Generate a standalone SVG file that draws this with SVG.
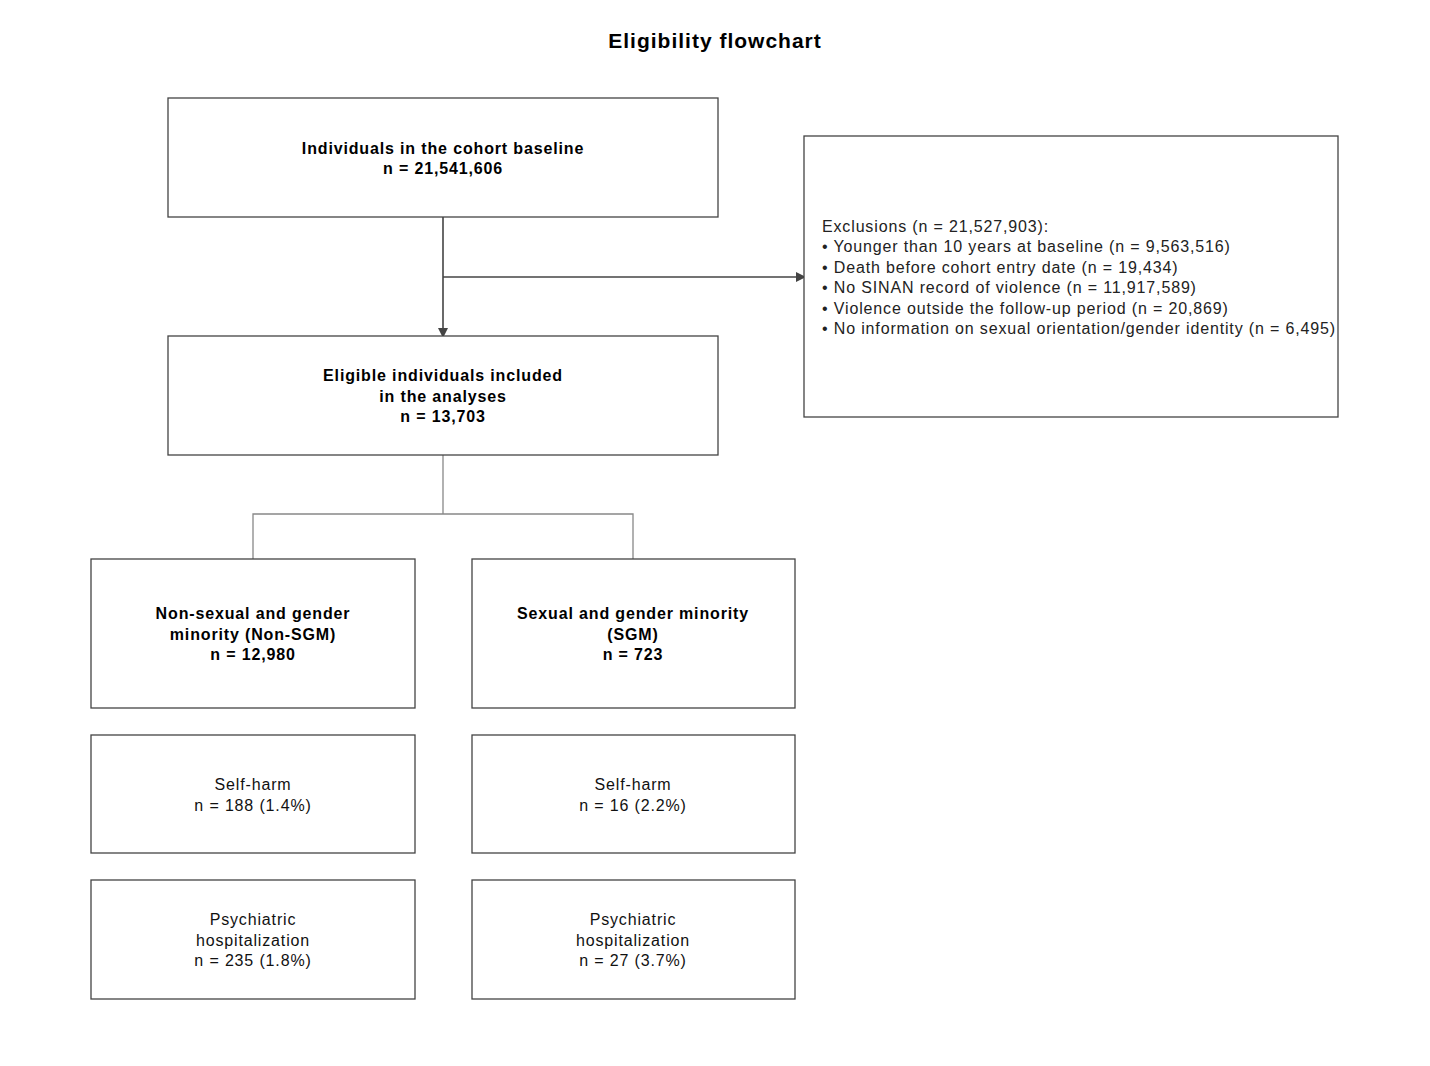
<svg xmlns="http://www.w3.org/2000/svg" width="1430" height="1066" viewBox="0 0 1430 1066">
<style>
.box{fill:#fff;stroke:#444;stroke-width:1.3}
.t{font-family:"Liberation Sans",Arial,sans-serif;font-size:16px;fill:#111;text-anchor:middle;letter-spacing:0.85px}
.b{font-weight:bold;fill:#000}
.l{text-anchor:start;fill:#222}
.c{fill:none;stroke:#444;stroke-width:1.6}
.s{fill:none;stroke:#888;stroke-width:1.3}
</style>
<defs>
<marker id="ah" markerWidth="10" markerHeight="10" refX="9" refY="5" orient="auto" markerUnits="userSpaceOnUse">
<path d="M0,0 L10,5 L0,10 Z" fill="#444"/>
</marker>
</defs>
<rect width="1430" height="1066" fill="#fff"/>
<text x="715" y="48" class="t b" style="font-size:21px;letter-spacing:1px">Eligibility flowchart</text>
<g id="connectors">
<line class="c" x1="443" y1="217" x2="443" y2="337" marker-end="url(#ah)"/>
<line class="c" x1="443" y1="277" x2="805" y2="277" marker-end="url(#ah)"/>
<polyline class="s" points="443,455 443,514"/>
<polyline class="s" points="253,559 253,514 633,514 633,559"/>
</g>
<g id="baseline">
<rect class="box" x="168" y="98" width="550" height="119"/>
<text class="t b" x="443" y="154">Individuals in the cohort baseline</text>
<text class="t b" x="443" y="174">n = 21,541,606</text>
</g>
<g id="exclusions">
<rect class="box" x="804" y="136" width="534" height="281"/>
<text class="t l" x="822" y="232">Exclusions (n = 21,527,903):</text>
<text class="t l" x="822" y="252">• Younger than 10 years at baseline (n = 9,563,516)</text>
<text class="t l" x="822" y="273">• Death before cohort entry date (n = 19,434)</text>
<text class="t l" x="822" y="293">• No SINAN record of violence (n = 11,917,589)</text>
<text class="t l" x="822" y="314">• Violence outside the follow-up period (n = 20,869)</text>
<text class="t l" x="822" y="334">• No information on sexual orientation/gender identity (n = 6,495)</text>
</g>
<g id="eligible">
<rect class="box" x="168" y="336" width="550" height="119"/>
<text class="t b" x="443" y="381">Eligible individuals included</text>
<text class="t b" x="443" y="402">in the analyses</text>
<text class="t b" x="443" y="422">n = 13,703</text>
</g>
<g id="nonsgm">
<rect class="box" x="91" y="559" width="324" height="149"/>
<text class="t b" x="253" y="619">Non-sexual and gender</text>
<text class="t b" x="253" y="640">minority (Non-SGM)</text>
<text class="t b" x="253" y="660">n = 12,980</text>
</g>
<g id="sgm">
<rect class="box" x="472" y="559" width="323" height="149"/>
<text class="t b" x="633" y="619">Sexual and gender minority</text>
<text class="t b" x="633" y="640">(SGM)</text>
<text class="t b" x="633" y="660">n = 723</text>
</g>
<g id="selfharm-nonsgm">
<rect class="box" x="91" y="735" width="324" height="118"/>
<text class="t" x="253" y="790">Self-harm</text>
<text class="t" x="253" y="811">n = 188 (1.4%)</text>
</g>
<g id="selfharm-sgm">
<rect class="box" x="472" y="735" width="323" height="118"/>
<text class="t" x="633" y="790">Self-harm</text>
<text class="t" x="633" y="811">n = 16 (2.2%)</text>
</g>
<g id="psych-nonsgm">
<rect class="box" x="91" y="880" width="324" height="119"/>
<text class="t" x="253" y="925">Psychiatric</text>
<text class="t" x="253" y="946">hospitalization</text>
<text class="t" x="253" y="966">n = 235 (1.8%)</text>
</g>
<g id="psych-sgm">
<rect class="box" x="472" y="880" width="323" height="119"/>
<text class="t" x="633" y="925">Psychiatric</text>
<text class="t" x="633" y="946">hospitalization</text>
<text class="t" x="633" y="966">n = 27 (3.7%)</text>
</g>
</svg>
